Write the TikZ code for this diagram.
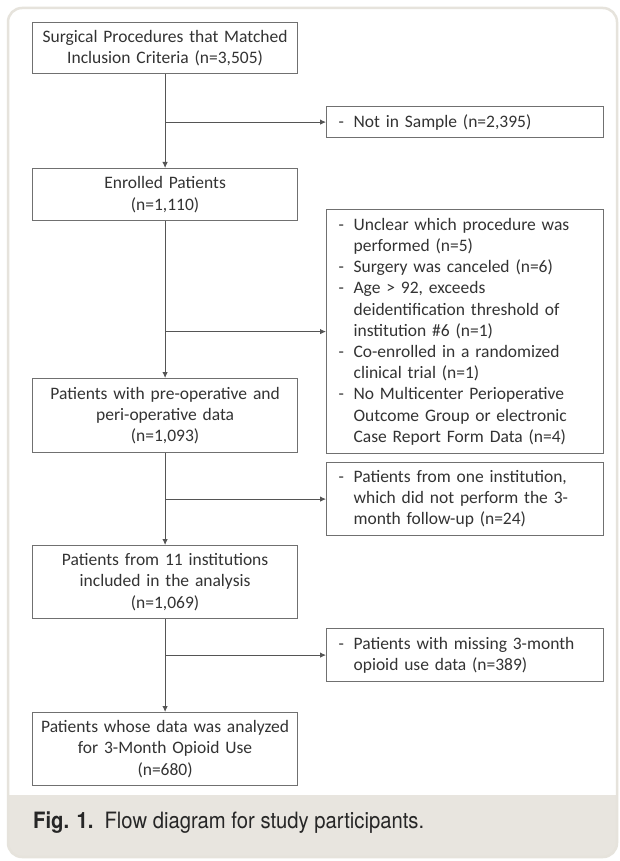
\documentclass[tikz,border=0pt]{standalone}
\usepackage{fontspec}
\setmainfont{Carlito}
\newfontfamily\capfont[FakeStretch=0.9]{TeX Gyre Heros}
\usepackage{tikz}
\usetikzlibrary{arrows.meta}
\definecolor{cornice}{HTML}{E6E3DC}
\definecolor{fondo}{HTML}{E8E5DF}
\definecolor{bordo}{HTML}{707070}
\definecolor{testo}{HTML}{333333}
\definecolor{linea}{HTML}{555555}
\newcommand{\voce}{\makebox[15pt][l]{-}}
\newcommand{\rientro}{\hspace*{15pt}}

\begin{document}
\begin{tikzpicture}[x=1pt, y=-1pt,
    riquadro/.style={draw=bordo, line width=1.2pt, text=testo, inner sep=0pt, anchor=north west,
      font=\fontsize{17.5}{21.2}\selectfont},
    centrale/.style={riquadro, minimum width=265pt, text width=253pt, align=center},
    escluso/.style={riquadro, minimum width=277pt, text width=253pt, align=left},
    freccia/.style={draw=linea, line width=0.9pt, -{Latex[length=6pt,width=5.5pt]}}]
    \useasboundingbox (0,0) rectangle (619,861);
    % Cornice
    \fill[white] (0,0) rectangle (619,861);
    \begin{scope}
      \clip (0,795) rectangle (619,861);
      \fill[fondo, rounded corners=14pt] (8,8) rectangle (617,857);
    \end{scope}
    \draw[cornice, line width=2.5pt, rounded corners=14pt] (8,8) rectangle (617,857);
    % Colonna principale
    \node[centrale, minimum height=51pt] (proc) at (32,22) {Surgical Procedures that Matched\\Inclusion Criteria (n=3,505)};
    \node[centrale, minimum height=52pt] (arruolati) at (32,168) {Enrolled Patients\\(n=1,110)};
    \node[centrale, minimum height=74pt] (periop) at (32,378) {Patients with pre-operative and\\peri-operative data\\(n=1,093)};
    \node[centrale, minimum height=73pt] (istituzioni) at (32,545) {Patients from 11 institutions\\included in the analysis\\(n=1,069)};
    \node[centrale, minimum height=73pt] (analizzati) at (32,712) {Patients whose data was analyzed\\for 3-Month Opioid Use\\(n=680)};
    % Esclusi
    \node[escluso, minimum height=31pt] (escl1) at (326,106) {\voce Not in Sample (n=2,395)};
    \node[escluso, minimum height=244pt] (escl2) at (326,209) {\voce Unclear which procedure was\\
      \rientro performed (n=5)\\
      \voce Surgery was canceled (n=6)\\
      \voce Age > 92, exceeds\\
      \rientro deidentification threshold of\\
      \rientro institution \#6 (n=1)\\
      \voce Co-enrolled in a randomized\\
      \rientro clinical trial (n=1)\\
      \voce No Multicenter Perioperative\\
      \rientro Outcome Group or electronic\\
      \rientro Case Report Form Data (n=4)};
    \node[escluso, minimum height=73pt] (escl3) at (326,462) {\voce Patients from one institution,\\
      \rientro which did not perform the 3-\\
      \rientro month follow-up (n=24)};
    \node[escluso, minimum height=53pt] (escl4) at (326,628) {\voce Patients with missing 3-month\\
      \rientro opioid use data (n=389)};
    % Frecce
    \draw[freccia] (proc) -- (arruolati);
    \draw[freccia] (arruolati) -- (periop);
    \draw[freccia] (periop) -- (istituzioni);
    \draw[freccia] (istituzioni) -- (analizzati);
    \coordinate (j1) at (proc.south |- escl1.west);
    \coordinate (j2) at (arruolati.south |- escl2.west);
    \coordinate (j3) at (periop.south |- escl3.west);
    \coordinate (j4) at (istituzioni.south |- escl4.west);
    \draw[freccia] (j1) -- (escl1);
    \draw[freccia] (j2) -- (escl2);
    \draw[freccia] (j3) -- (escl3);
    \draw[freccia] (j4) -- (escl4);
    % Didascalia
    \node[anchor=base west, inner sep=0pt, text=black!85, font=\capfont\fontsize{22.5}{26}\selectfont] (didascalia) at (33,828)
      {\textbf{Fig. 1.}\hspace{11pt}Flow diagram for study participants.};
\end{tikzpicture}
\end{document}
